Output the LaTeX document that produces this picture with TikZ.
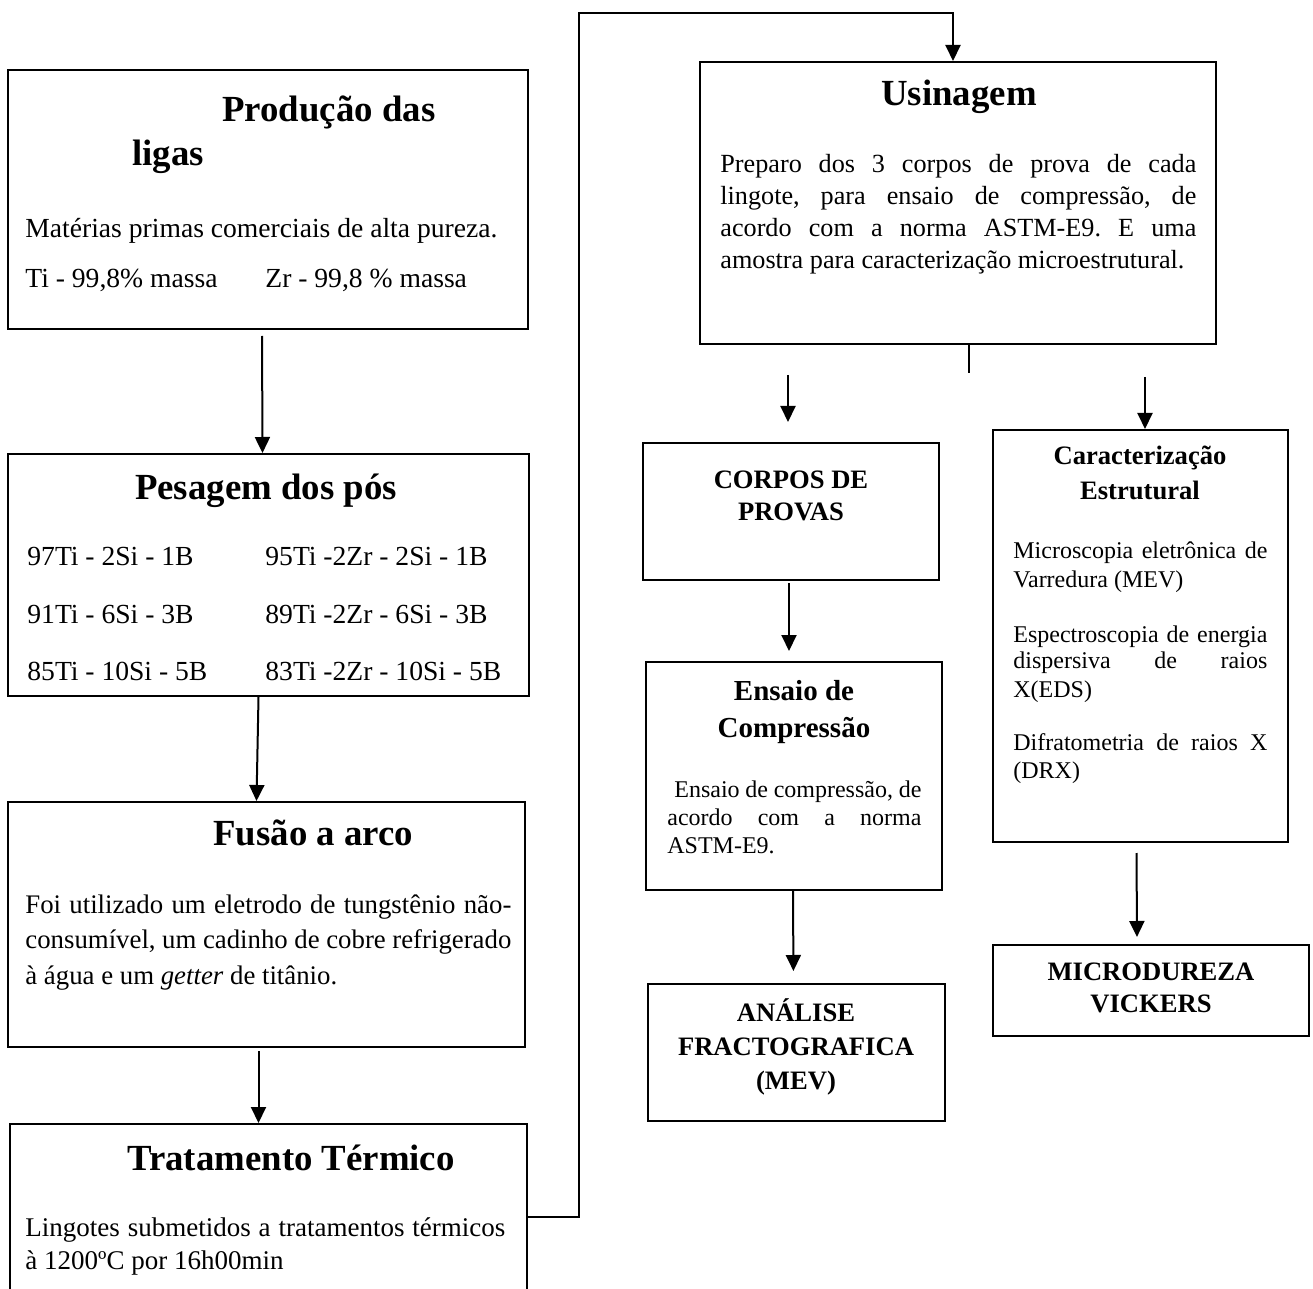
\documentclass[tikz,border=0pt]{standalone}
\usepackage{fontspec}
\setmainfont{Liberation Serif}
\usetikzlibrary{arrows.meta,fit}
\frenchspacing
\begin{document}
\begin{tikzpicture}[x=0.5pt,y=-0.5pt,
  box/.style={draw, line width=1pt, inner sep=0pt},
  arr/.style={line width=1pt, -{Triangle[width=7.5pt,length=8pt]}},
  conn/.style={line width=1pt},
  ttl/.style={inner sep=0pt, font=\fontsize{18.4}{22}\selectfont\bfseries},
  hd/.style={inner sep=0pt, font=\fontsize{13.3}{16}\selectfont\bfseries},
  hdb/.style={inner sep=0pt, font=\fontsize{14.5}{17}\selectfont\bfseries},
  bodyA/.style={inner sep=0pt, font=\fontsize{13.8}{16}\selectfont},
  bodyF/.style={inner sep=0pt, font=\fontsize{13.4}{16}\selectfont},
  bodyT/.style={inner sep=0pt, font=\fontsize{13.5}{16}\selectfont},
  body/.style={inner sep=0pt, font=\fontsize{13.1}{15}\selectfont},
  sm/.style={inner sep=0pt, font=\fontsize{12}{14}\selectfont}]
\fill[white] (0,0) rectangle (1313,1289);
\useasboundingbox (0,0) rectangle (1313,1289);

% ---- boxes
\node[box, fit={(8,70)(528,329)}] (prod) {};
\node[box, fit={(8,454)(529,696)}] (pes) {};
\node[box, fit={(8,802)(525,1047)}] (fus) {};
\node[box, fit={(10,1124)(527,1310)}] (trat) {};
\node[box, fit={(700,62)(1216,344)}] (usin) {};
\node[box, fit={(643,443)(939,580)}] (corp) {};
\node[box, fit={(646,662)(942,890)}] (ens) {};
\node[box, fit={(648,984)(945,1121)}] (ana) {};
\node[box, fit={(993,430)(1288,842)}] (car) {};
\node[box, fit={(993,945)(1309,1036)}] (mic) {};

% ---- texts: Producao
\node[ttl, anchor=base west] (t1a) at (222,122) {Produção das};
\node[ttl, anchor=base west] (t1b) at (132,166) {ligas};
\node[bodyA, anchor=base west] (b1a) at (25,238) {Matérias primas comerciais de alta pureza.};
\node[bodyA, anchor=base west] (b1b) at (25,288) {Ti - 99,8\% massa};
\node[bodyA, anchor=base west] (b1c) at (265,288) {Zr - 99,8 \% massa};

% Pesagem
\node[ttl, anchor=base] (t2) at (266,500) {Pesagem dos pós};
\node[bodyA, anchor=base west] (p1) at (27,565) {97Ti - 2Si - 1B};
\node[bodyA, anchor=base west] (p2) at (265,565) {95Ti -2Zr - 2Si - 1B};
\node[bodyA, anchor=base west] (p3) at (27,623) {91Ti - 6Si - 3B};
\node[bodyA, anchor=base west] (p4) at (265,623) {89Ti -2Zr - 6Si - 3B};
\node[bodyA, anchor=base west] (p5) at (27,680) {85Ti - 10Si - 5B};
\node[bodyA, anchor=base west] (p6) at (265,680) {83Ti -2Zr - 10Si - 5B};

% Fusao
\node[ttl, anchor=base west] (t3) at (213,845) {Fusão a arco};
\node[bodyF, anchor=base west] (f1) at (25,913) {\makebox[243pt][s]{Foi utilizado um eletrodo de tungstênio não-}};
\node[bodyF, anchor=base west] (f2) at (25,948) {\makebox[243pt][s]{consumível, um cadinho de cobre refrigerado}};
\node[bodyF, anchor=base west] (f3) at (25,984) {à água e um \textit{getter} de titânio.};

% Tratamento
\node[ttl, anchor=base west] (t4) at (127,1170) {Tratamento Térmico};
\node[bodyT, anchor=base west] (r1) at (25,1236) {\makebox[240pt][s]{Lingotes submetidos a tratamentos térmicos}};
\node[bodyT, anchor=base west] (r2) at (25,1269) {à 1200ºC por 16h00min};

% Usinagem
\node[ttl, anchor=base] (t5) at (959,106) {Usinagem};
\node[body, anchor=base west] (u1) at (720,173) {\makebox[238pt][s]{Preparo dos 3 corpos de prova de cada}};
\node[body, anchor=base west] (u2) at (720,205) {\makebox[238pt][s]{lingote, para ensaio de compressão, de}};
\node[body, anchor=base west] (u3) at (720,237) {\makebox[238pt][s]{acordo com a norma ASTM-E9. E uma}};
\node[body, anchor=base west] (u4) at (720,269) {amostra para caracterização microestrutural.};

% Corpos
\node[hd, anchor=base] (c1) at (791,488) {CORPOS DE};
\node[hd, anchor=base] (c2) at (791,520) {PROVAS};

% Ensaio
\node[hdb, anchor=base] (e1) at (794,700) {Ensaio de};
\node[hdb, anchor=base] (e2) at (794,737) {Compressão};
\node[sm, anchor=base west] (e3) at (667,797) {\makebox[127pt][s]{\hspace*{3.5pt}Ensaio de compressão, de}};
\node[sm, anchor=base west] (e4) at (667,825) {\makebox[127pt][s]{acordo com a norma}};
\node[sm, anchor=base west] (e5) at (667,853) {ASTM-E9.};

% Analise
\node[hd, anchor=base] (a1) at (796,1021) {ANÁLISE};
\node[hd, anchor=base] (a2) at (796,1055) {FRACTOGRAFICA};
\node[hd, anchor=base] (a3) at (796,1089) {(MEV)};

% Caracterizacao
\node[hd, anchor=base] (k1) at (1140,465) {Caracterização};
\node[hd, anchor=base] (k2) at (1140,500) {Estrutural};
\node[sm, anchor=base west] (k3) at (1013,558) {\makebox[127pt][s]{Microscopia eletrônica de}};
\node[sm, anchor=base west] (k4) at (1013,587) {Varredura (MEV)};
\node[sm, anchor=base west] (k5) at (1013,642) {\makebox[127pt][s]{Espectroscopia de energia}};
\node[sm, anchor=base west] (k6) at (1013,668) {\makebox[127pt][s]{dispersiva de raios}};
\node[sm, anchor=base west] (k7) at (1013,697) {X(EDS)};
\node[sm, anchor=base west] (k8) at (1013,750) {\makebox[127pt][s]{Difratometria de raios X}};
\node[sm, anchor=base west] (k9) at (1013,778) {(DRX)};

% Microdureza
\node[hd, anchor=base] (m1) at (1151,980) {MICRODUREZA};
\node[hd, anchor=base] (m2) at (1151,1012) {VICKERS};

% ---- connectors
\draw[arr, shorten <=3pt] ([xshift=-3pt]prod.south) -- ([xshift=-3pt]pes.north);
\draw[arr] ([xshift=-5pt]pes.south) -- ([xshift=-5pt]fus.north);
\draw[arr, shorten <=1.5pt] ([xshift=-4pt]fus.south) -- ([xshift=-5pt]trat.north);

\coordinate (j1) at (579,1217);
\coordinate (j2) at (579,13);
\coordinate (j3) at (953,13);
\draw[arr] (trat.east |- j1) -- (j1) -- (j2) -- (j3) -- (usin.north -| j3);

\coordinate (s1) at (969,373);
\draw[conn] (usin.south -| s1) -- (s1);
\coordinate (la) at (788,375);
\coordinate (ra) at (1145,377);
\draw[arr, shorten >=10pt] (la) -- (corp.north -| la);
\draw[arr] (ra) -- (car.north -| ra);

\draw[arr, shorten <=1pt, shorten >=5pt] ([xshift=-1pt]corp.south) -- ([xshift=-2.5pt]ens.north);
\draw[arr, shorten >=6pt] ([xshift=-0.5pt]ens.south) -- ([xshift=-1.5pt]ana.north);
\draw[arr, shorten <=5pt, shorten >=3.5pt] ([xshift=-2pt]car.south) -- ([xshift=-7pt]mic.north);
\end{tikzpicture}
\end{document}
